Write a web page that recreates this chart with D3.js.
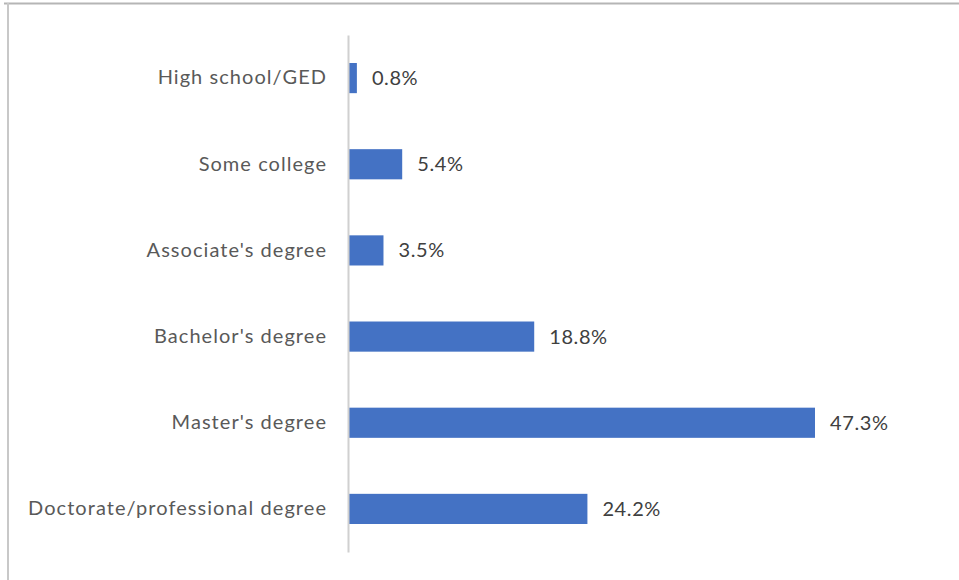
<!DOCTYPE html>
<html>
<head>
<meta charset="utf-8">
<script src="https://cdn.jsdelivr.net/npm/d3@7"></script>
<style>
  html, body { margin: 0; padding: 0; background: #fff; }
  svg { display: block; }
</style>
</head>
<body>
<svg id="chart" width="959" height="580"></svg>
<script>
const categories = [
  "High school/GED",
  "Some college",
  "Associate's degree",
  "Bachelor's degree",
  "Master's degree",
  "Doctorate/professional degree"
];
const values = [0.8, 5.4, 3.5, 18.8, 47.3, 24.2];

const svg = d3.select("#chart");
const W = 959, H = 580;

// frame
svg.append("line").attr("x1", 4).attr("x2", W).attr("y1", 3.5).attr("y2", 3.5)
  .attr("stroke", "#b5b5b5").attr("stroke-width", 2);
svg.append("line").attr("x1", 8).attr("x2", 8).attr("y1", 3).attr("y2", H)
  .attr("stroke", "#c8c8c8").attr("stroke-width", 2);

const x0 = 349;
const x = d3.scaleLinear().domain([0, 47.3]).range([x0, 815]);
const y = d3.scaleBand().domain(categories).range([35, 552]).paddingInner(0.65).paddingOuter(0.325);

const font = "Lato, 'Open Sans', sans-serif";

svg.append("g").selectAll("rect").data(values).join("rect")
  .attr("x", x(0))
  .attr("y", (d, i) => y(categories[i]))
  .attr("width", d => x(d) - x(0))
  .attr("height", y.bandwidth())
  .attr("fill", "#4472C4");

// axis
const yAxis = d3.axisLeft(y).tickSize(0).tickPadding(21);
const ag = svg.append("g").attr("transform", `translate(${x0 - 1},0)`).call(yAxis);
ag.select(".domain").attr("stroke", "#d0d0d0").attr("stroke-width", 2);
ag.selectAll("text").attr("font-family", font).attr("font-size", 20)
  .attr("letter-spacing", "1.05px").attr("fill", "#595959");

svg.append("g").selectAll("text").data(values).join("text")
  .attr("x", d => x(d) + 15)
  .attr("y", (d, i) => y(categories[i]) + y.bandwidth() / 2)
  .attr("dy", "0.35em")
  .attr("font-family", font).attr("font-size", 20).attr("letter-spacing", "0.6px")
  .attr("fill", "#404040")
  .text(d => d.toFixed(1) + "%");
</script>
</body>
</html>
